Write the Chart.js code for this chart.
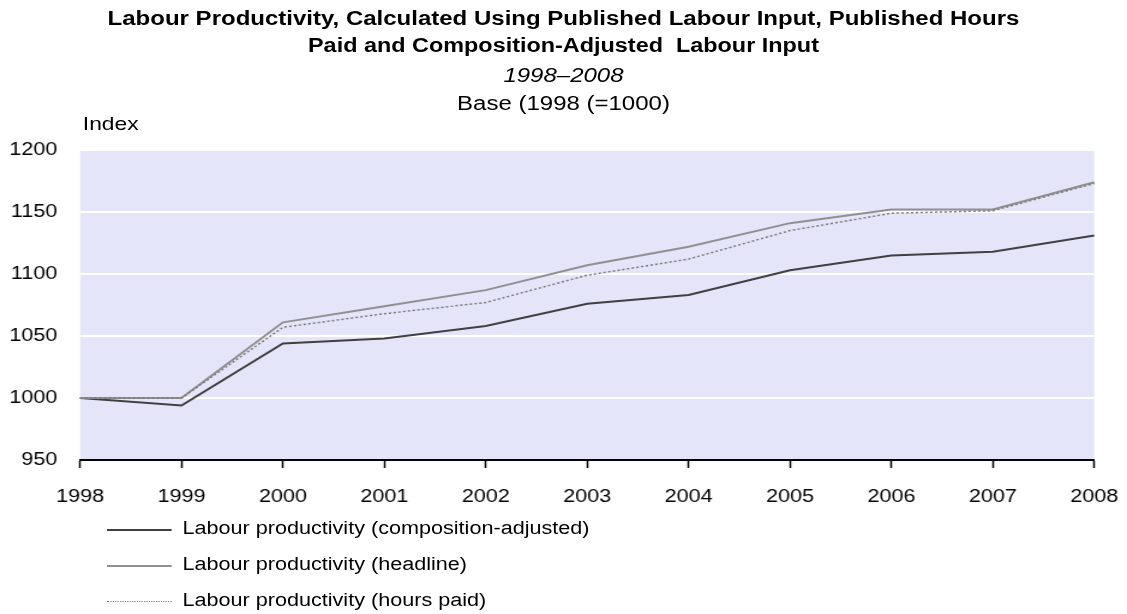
<!DOCTYPE html>
<html><head><meta charset="utf-8">
<script src="https://cdn.jsdelivr.net/npm/chart.js@4"></script>
<style>
html,body{margin:0;padding:0;background:#fff;width:1127px;height:614px;overflow:hidden;font-family:"Liberation Sans",Arial,sans-serif;color:#000}
#wrap{position:absolute;left:0;top:0;width:939px;height:614px;transform:scaleX(1.2002);transform-origin:0 0}
#c{position:absolute;left:0;top:0}
.t{position:absolute;left:0;width:939px;text-align:center;white-space:nowrap}
.b{font-weight:bold;font-size:19.5px}
#idx{position:absolute;left:69px;top:113px;font-size:19px}
#legend{position:absolute;left:89px;top:518px}
.li{position:relative;height:36px;font-size:18px;white-space:nowrap}
.ls{position:absolute;left:0;top:11px;width:54px;height:0}
.lt{position:absolute;left:63px;top:0}
</style></head>
<body>
<div id="wrap">
<canvas id="c" width="939" height="614"></canvas>
<div class="t b" style="top:7px;font-size:20px">Labour Productivity, Calculated Using Published Labour Input, Published Hours</div>
<div class="t b" style="top:34px">Paid and Composition-Adjusted&nbsp; Labour Input</div>
<div class="t" style="top:64px;font-style:italic;font-size:20px">1998–2008</div>
<div class="t" style="top:92px;font-size:20px">Base (1998 (=1000)</div>
<div id="idx">Index</div>
<div id="legend"></div>
</div>
<script>
const years = ['1998','1999','2000','2001','2002','2003','2004','2005','2006','2007','2008'];
const compositionAdjusted = [1000, 994, 1044, 1048, 1058, 1076, 1083, 1103, 1115, 1118, 1131];
const headline = [1000, 1000, 1061, 1074, 1087, 1107, 1122, 1141, 1152, 1152, 1174];
const hoursPaid = [1000, 1000, 1057, 1068, 1077, 1099, 1112, 1135, 1149, 1151, 1173];
const seriesNames = ['Labour productivity (composition-adjusted)','Labour productivity (headline)','Labour productivity (hours paid)'];
const yTicks = [950, 1000, 1050, 1100, 1150, 1200];

const bgPlugin = {
  id:'bg',
  beforeDraw(chart){
    const {ctx, chartArea:a} = chart;
    ctx.save(); ctx.fillStyle = '#E5E5FA';
    ctx.fillRect(a.left, a.top, a.right-a.left, a.bottom-a.top);
    ctx.restore();
  }
};

const styles = [
  {color:'#404040', width:2, dash:[]},
  {color:'#909090', width:2, dash:[]},
  {color:'#7a7a7a', width:1.5, dash:[2,2]}
];
const dataSets = [compositionAdjusted, headline, hoursPaid];

new Chart(document.getElementById('c'), {
  type:'line',
  data:{
    labels: years,
    datasets: dataSets.map((d,i)=>({
      label: seriesNames[i], data: d,
      borderColor: styles[i].color, borderWidth: styles[i].width, borderDash: styles[i].dash,
      pointRadius:0, tension:0, fill:false
    })).reverse()
  },
  options:{
    responsive:false, animation:false, devicePixelRatio:1,
    layout:{padding:{left:0, right:27.3, top:150, bottom:104}},
    plugins:{legend:{display:false}, tooltip:{enabled:false}, title:{display:false}},
    scales:{
      x:{
        type:'category', offset:false,
        grid:{display:true, drawOnChartArea:false, drawTicks:true, tickLength:8, tickColor:'#000', tickWidth:1.5},
        border:{display:true, color:'#000', width:2},
        ticks:{color:'#000', font:{family:'Liberation Sans', size:18}, padding:18, maxRotation:0, autoSkip:false},
        afterFit(s){ s.height = 50; s.paddingLeft = 0; s.paddingRight = 0; }
      },
      y:{
        min:950, max:1200,
        afterBuildTicks(s){ s.ticks = yTicks.map(v=>({value:v})); },
        grid:{color:'#ffffff', lineWidth:2, drawTicks:false},
        border:{display:false},
        ticks:{color:'#000', font:{family:'Liberation Sans', size:18}, padding:19, callback:v=>String(v)},
        afterFit(s){ s.width = 66.7; s.paddingTop = 0; s.paddingBottom = 0; }
      }
    }
  },
  plugins:[bgPlugin]
});

const leg = document.getElementById('legend');
seriesNames.forEach((n,i)=>{
  const row = document.createElement('div'); row.className='li';
  const s = document.createElement('div'); s.className='ls';
  s.style.borderTop = (i===2 ? '1.5px dotted ' : '2px solid ') + styles[i].color;
  const t = document.createElement('div'); t.className='lt'; t.textContent = n;
  row.appendChild(s); row.appendChild(t); leg.appendChild(row);
});
</script>
</body></html>
